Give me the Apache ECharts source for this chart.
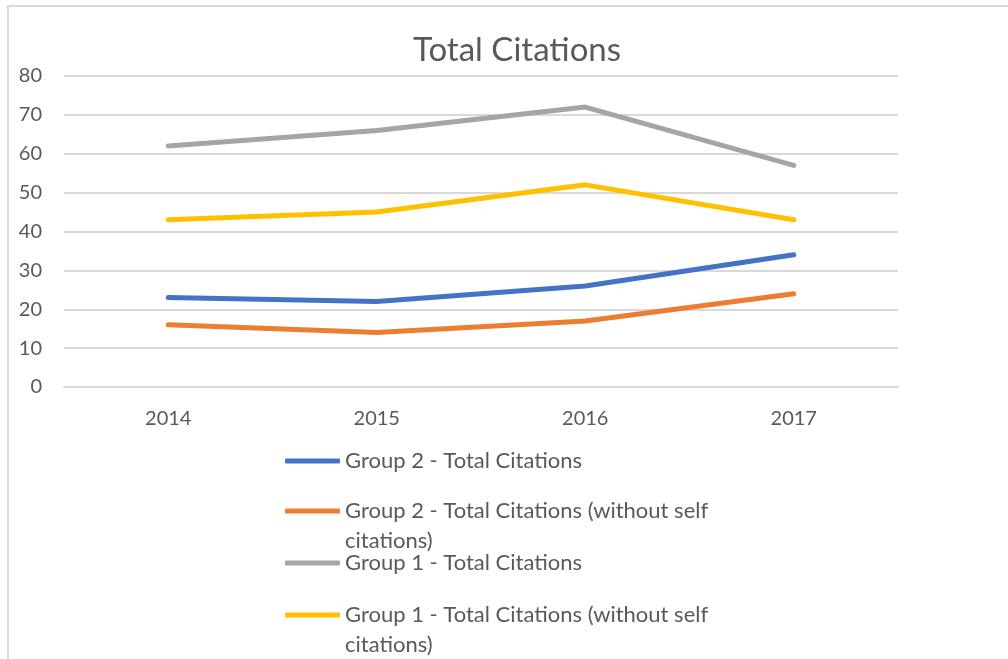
<!DOCTYPE html>
<html>
<head>
<meta charset="utf-8">
<script src="https://cdn.jsdelivr.net/npm/echarts@6/dist/echarts.min.js"></script>
<style>
    html,body{margin:0;padding:0;background:#fff;}
    #frame{position:absolute;left:7px;top:5px;width:1100px;height:760px;border:2px solid #d9d9d9;box-sizing:border-box;}
    #chart{position:absolute;left:0;top:0;width:1008px;height:659px;}
</style>
</head>
<body>
<div id="frame"></div>
<div id="chart"></div>
<script>
const years = ['2014', '2015', '2016', '2017']
const seriesNames = [
    'Group 2 - Total Citations',
    'Group 2 - Total Citations (without self citations)',
    'Group 1 - Total Citations',
    'Group 1 - Total Citations (without self citations)'
]
const group2Total = [23, 22, 26, 34]
const group2NoSelf = [16, 14, 17, 24]
const group1Total = [62, 66, 72, 57]
const group1NoSelf = [43, 45, 52, 43]
const colors = ['#4472C4', '#ED7D31', '#A5A5A5', '#FFC000']

const font = 'Lato'
const textColor = '#595959'
// icon centres at 460, 510, 562, 614
const legendTops = [446, 466, 548, 570]

let chart = echarts.init(document.getElementById('chart'))
let values = [group2Total, group2NoSelf, group1Total, group1NoSelf]

let option = {
    color: colors,
    title: {
        text: 'Total Citations',
        left: 408,
        top: 29,
        textStyle: { fontFamily: font, fontSize: 33, fontWeight: 'normal', color: textColor }
    },
    legend: seriesNames.map((name, i) => {
        return {
            data: [name],
            orient: 'vertical',
            left: 285,
            top: legendTops[i],
            padding: 0,
            icon: 'roundRect',
            itemWidth: 55,
            itemHeight: 5,
            itemGap: 0,
            // wrapped names get a blank first line so the icon sits on the first text line
            formatter: n => n.indexOf(' citations)') > -1 ? '\n' + n.replace(' citations)', '\ncitations)') : n,
            textStyle: {
                fontFamily: font,
                fontSize: 22,
                color: textColor,
                lineHeight: 30
            }
        }
    }),
    grid: { left: 64, right: 110, top: 76, bottom: 272, containLabel: false },
    xAxis: {
        type: 'category',
        data: years,
        boundaryGap: true,
        axisLine: { show: true, lineStyle: { color: '#d9d9d9', width: 2 } },
        axisTick: { show: false },
        axisLabel: { color: textColor, fontFamily: font, fontSize: 20, margin: 22 }
    },
    yAxis: {
        type: 'value',
        min: 0,
        max: 80,
        interval: 10,
        axisLine: { show: false },
        axisTick: { show: false },
        axisLabel: { color: textColor, fontFamily: font, fontSize: 20, margin: 22 },
        splitLine: { lineStyle: { color: '#d9d9d9', width: 2 } }
    },
    series: seriesNames.map((name, i) => ({
        name: name,
        type: 'line',
        data: values[i],
        symbol: 'none',
        lineStyle: { width: 5, cap: 'round', join: 'round' }
    }))
}
chart.setOption(option)
</script>
</body>
</html>
